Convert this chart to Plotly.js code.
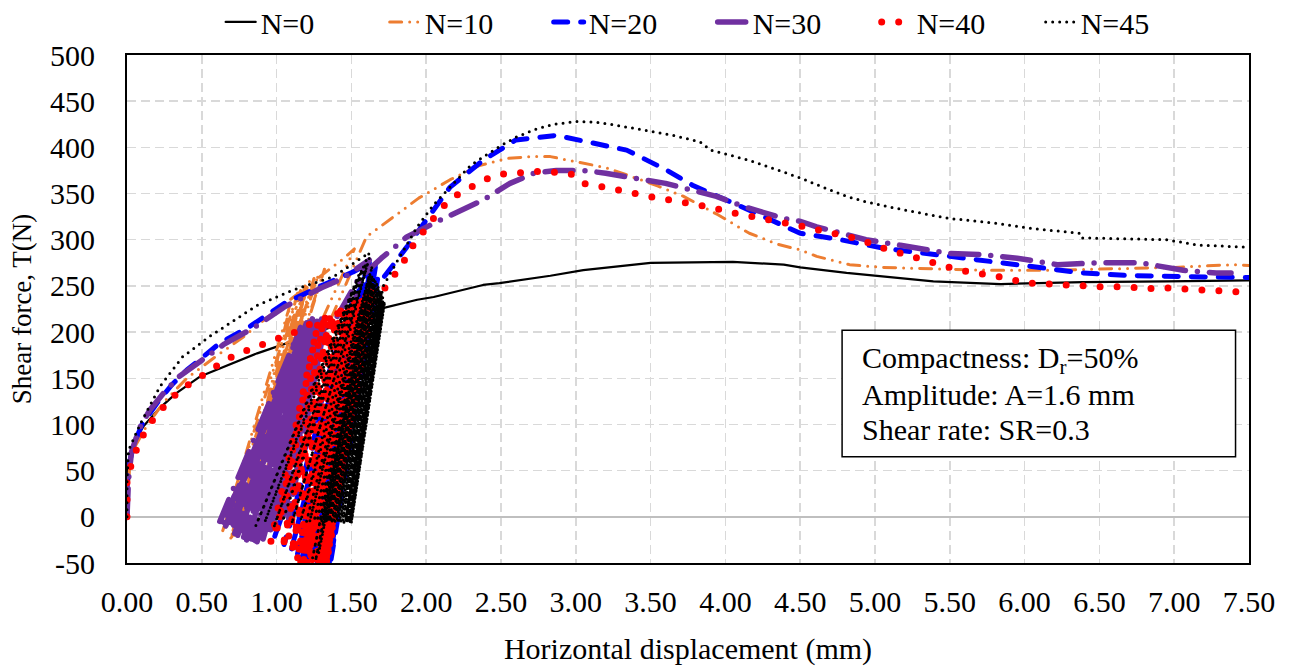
<!DOCTYPE html>
<html>
<head>
<meta charset="utf-8">
<script src="https://cdn.plot.ly/plotly-3.0.1.min.js"></script>
<style>
  html, body { margin: 0; padding: 0; background: #ffffff; }
  #chart { width: 1291px; height: 666px; }
  .js-line { stroke-linecap: round; stroke-linejoin: round; }
</style>
</head>
<body>
<div id="chart"></div>
<script>
// ---------------- DATA ----------------
const seriesNames = ['N=0', 'N=10', 'N=20', 'N=30', 'N=40', 'N=45'];
const yTickVals = [-50, 0, 50, 100, 150, 200, 250, 300, 350, 400, 450, 500];
const yTickText = ['-50', '0', '50', '100', '150', '200', '250', '300', '350', '400', '450', '500'];

// N=0 : monotonic test, no cycles
const n0_x = [0, 0, 0.01, 0.05, 0.11, 0.22, 0.33, 0.49, 0.55, 0.755, 0.87, 1.07, 1.38, 1.71, 1.94, 2.05, 2.38, 2.49, 2.83, 3.05, 3.5, 3.83, 4.05, 4.39, 4.5, 4.81, 4.94, 5.39, 5.84, 6.39, 6.95, 7.48, 7.5];
const n0_y = [0, 30, 60, 82, 98, 118, 134, 152, 156, 170, 177, 188, 206, 226, 235, 238, 251, 253, 261, 267, 275, 276, 276, 273, 270, 264, 262, 255, 252, 254, 255, 256, 256];

// N=10
const n10_init_x = [0, 0.01, 0.02, 0.06, 0.13, 0.25, 0.4, 0.58, 0.78, 0.93, 1.13, 1.3, 1.45, 1.52];
const n10_init_y = [0, 30, 62, 78, 98, 125, 150, 172, 195, 215, 240, 262, 280, 290];
const n10_cyc_x = [0.68, 1.22, 0.64, 1.14, 0.70, 1.28, 0.66, 1.10, 0.73, 1.19, 0.69, 1.25, 0.76, 1.16, 0.72, 1.32, 0.78, 1.21, 0.75];
const n10_cyc_y = [-8, 255, -15, 242, -22, 262, -5, 235, -18, 250, -25, 258, -12, 245, -20, 268, -8, 252, -15];
const n10_post_x = [1.6, 1.78, 1.95, 2.16, 2.35, 2.54, 2.7, 2.83, 3.05, 3.2, 3.38, 3.55, 3.72, 3.95, 4.16, 4.35, 4.5, 4.61, 4.83, 5.05, 5.28, 5.5, 5.75, 6.17, 6.5, 6.72, 7.0, 7.39, 7.5];
const n10_post_y = [303, 325, 345, 365, 380, 388, 390, 390, 383, 378, 368, 358, 347, 327, 307, 295, 289, 282, 273, 270, 269, 268, 267, 267, 268, 269, 270, 273, 272];

// N=20
const n20_init_x = [0, 0, 0.01, 0.05, 0.1, 0.2, 0.3, 0.4, 0.5, 0.62, 0.82, 1.05, 1.31, 1.51, 1.62];
const n20_init_y = [0, 30, 55, 80, 100, 123, 143, 159, 172, 188, 206, 231, 251, 265, 275];
const n20_cyc_x = [0.98, 1.50, 1.05, 1.55, 1.10, 1.52, 1.14, 1.58, 1.17, 1.55, 1.20, 1.60, 1.22, 1.57, 1.24, 1.62, 1.25, 1.59, 1.27, 1.63, 1.28, 1.60, 1.30, 1.64, 1.29, 1.61, 1.31, 1.65, 1.32, 1.62, 1.33, 1.66, 1.34, 1.63, 1.35, 1.66, 1.33, 1.64, 1.36];
const n20_cyc_y = [-25, 230, -30, 245, -35, 238, -40, 252, -45, 240, -48, 258, -42, 248, -50, 262, -38, 250, -52, 265, -45, 255, -55, 268, -40, 258, -50, 270, -45, 262, -55, 272, -48, 265, -52, 270, -42, 266, -50];
const n20_post_x = [1.68, 1.71, 1.87, 2.03, 2.16, 2.38, 2.6, 2.87, 3.09, 3.34, 3.6, 3.78, 4.16, 4.5, 4.77, 5.05, 5.5, 5.95, 6.39, 6.72, 7.17, 7.5];
const n20_post_y = [262, 258, 292, 329, 357, 386, 408, 413, 406, 397, 376, 359, 332, 307, 300, 291, 282, 273, 264, 261, 260, 259];

// N=30
const n30_init_x = [0, 0.01, 0.03, 0.08, 0.15, 0.25, 0.35, 0.5, 0.65, 0.85, 1.05, 1.3, 1.44, 1.62];
const n30_init_y = [0, 40, 70, 95, 115, 135, 152, 170, 187, 205, 227, 248, 258, 278];
const n30_cyc_x = [0.62, 1.16, 0.66, 1.20, 0.70, 1.18, 0.64, 1.22, 0.74, 1.19, 0.68, 1.24, 0.78, 1.17, 0.72, 1.25, 0.80, 1.21, 0.76, 1.27, 0.83, 1.20, 0.79, 1.28, 0.86, 1.23, 0.82, 1.29, 0.88, 1.22, 0.85, 1.27, 0.90, 1.30, 0.87, 1.25, 0.92, 1.31, 0.89, 1.24, 0.94, 1.29, 0.91, 1.32, 0.97, 1.28, 0.93, 1.31, 1.00, 1.26, 0.96, 1.30, 1.04, 1.33, 0.99, 1.29, 1.08, 1.32, 1.02];
const n30_cyc_y = [-5, 205, -10, 210, -15, 200, -8, 212, -20, 205, -12, 215, -22, 195, -18, 210, -25, 205, -15, 212, -24, 198, -20, 215, -26, 205, -18, 210, -22, 200, -25, 208, -20, 214, -27, 204, -15, 210, -22, 198, -12, 206, -24, 212, -8, 203, -18, 208, -5, 196, -14, 205, -3, 210, -10, 200, -2, 206, -6];
const n30_post_x = [1.58, 1.7, 1.87, 2.09, 2.38, 2.56, 2.72, 2.87, 3.05, 3.2, 3.38, 3.6, 3.94, 4.12, 4.39, 4.5, 4.61, 4.94, 5.17, 5.5, 5.7, 5.95, 6.22, 6.5, 6.77, 7.06, 7.28, 7.38];
const n30_post_y = [262, 280, 303, 321, 343, 361, 372, 375, 375, 372, 367, 361, 347, 336, 323, 320, 314, 300, 294, 285, 284, 280, 273, 275, 275, 267, 264, 264];

// N=40
const n40_init_x = [0, 0, 0, 0, 0.04, 0.08, 0.13, 0.2, 0.28, 0.36, 0.46, 0.56, 0.66, 0.77, 0.88, 0.99, 1.1, 1.2, 1.31, 1.42, 1.52];
const n40_init_y = [0, 4, 22, 42, 62, 80, 95, 111, 125, 138, 148, 160, 170, 178, 186, 192, 198, 207, 214, 222, 232];
const n40_cyc_x = [0.96, 1.28, 1.00, 1.32, 1.04, 1.36, 1.08, 1.38, 1.10, 1.41, 1.12, 1.43, 1.14, 1.45, 1.15, 1.47, 1.16, 1.48, 1.17, 1.50, 1.18, 1.51, 1.19, 1.52, 1.20, 1.53, 1.21, 1.54, 1.22, 1.55, 1.22, 1.56, 1.23, 1.56, 1.24, 1.57, 1.24, 1.57, 1.25, 1.58, 1.25, 1.58, 1.26, 1.59, 1.26, 1.59, 1.27, 1.60, 1.27, 1.60, 1.28, 1.60, 1.28, 1.61, 1.29, 1.61, 1.29, 1.61, 1.30, 1.62, 1.30, 1.62, 1.30, 1.62, 1.31, 1.62, 1.31, 1.63, 1.31, 1.63, 1.32, 1.63, 1.32, 1.63, 1.32, 1.64, 1.33, 1.64, 1.33];
const n40_cyc_y = [-28, 212, -15, 216, -35, 220, -22, 218, -40, 222, -30, 225, -45, 222, -35, 228, -50, 225, -40, 230, -48, 228, -38, 233, -52, 230, -44, 235, -50, 232, -40, 236, -55, 233, -46, 238, -52, 235, -42, 239, -56, 236, -48, 240, -52, 237, -45, 241, -55, 238, -50, 242, -44, 239, -53, 243, -47, 240, -55, 244, -49, 241, -44, 245, -52, 242, -46, 245, -55, 243, -50, 246, -45, 244, -53, 246, -48, 245, -52];
const n40_post_x = [1.66, 1.7, 1.76, 1.84, 1.89, 1.96, 2.03, 2.1, 2.19, 2.29, 2.39, 2.5, 2.63, 2.74, 2.86, 2.97, 3.02, 3.05, 3.12, 3.23, 3.34, 3.45, 3.56, 3.67, 3.8, 3.91, 4.02, 4.13, 4.24, 4.35, 4.47, 4.58, 4.69, 4.8, 4.91, 5.01, 5.12, 5.23, 5.35, 5.45, 5.56, 5.68, 5.78, 5.9, 6.0, 6.11, 6.23, 6.34, 6.46, 6.58, 6.69, 6.81, 6.92, 7.03, 7.15, 7.26, 7.38, 7.5];
const n40_post_y = [236, 242, 256, 273, 289, 304, 320, 334, 347, 357, 365, 371, 373, 374, 373, 371, 365, 361, 359, 356, 352, 348, 345, 341, 337, 335, 330, 327, 324, 320, 316, 312, 308, 304, 300, 293, 288, 282, 277, 272, 267, 264, 261, 258, 253, 253, 251, 251, 249, 249, 249, 247, 248, 247, 245, 245, 244, 243];

// N=45
const n45_init_x = [0, 0, 0.01, 0.09, 0.22, 0.37, 0.55, 0.87, 1.1, 1.38, 1.62];
const n45_init_y = [0, 40, 72, 101, 141, 173, 195, 229, 245, 260, 286];
const n45_cyc_x = [0.86, 1.55, 0.92, 1.60, 0.98, 1.57, 1.04, 1.62, 1.10, 1.60, 1.16, 1.64, 1.20, 1.62, 1.22, 1.63, 1.24, 1.62, 1.25, 1.64, 1.26, 1.63, 1.27, 1.65, 1.28, 1.64, 1.29, 1.65, 1.30, 1.66, 1.31, 1.65, 1.32, 1.66, 1.33, 1.67, 1.34, 1.66, 1.35, 1.67, 1.36, 1.68, 1.37, 1.67, 1.38, 1.68, 1.39, 1.69, 1.40, 1.68, 1.41, 1.69, 1.42, 1.70, 1.43, 1.69, 1.44, 1.70, 1.45, 1.70, 1.46, 1.71, 1.47, 1.70, 1.48, 1.71, 1.49, 1.71, 1.50, 1.72, 1.49, 1.71, 1.48, 1.70, 1.47, 1.71, 1.50, 1.72, 1.46, 1.70, 1.49, 1.71, 1.50, 1.72, 1.48, 1.71, 1.50, 1.72, 1.49];
const n45_cyc_y = [-10, 262, -6, 275, -12, 268, -5, 280, -8, 270, -5, 272, -5, 262, -6, 264, -45, 258, -5, 262, -48, 256, -5, 260, -40, 255, -5, 258, -6, 256, -5, 253, -5, 255, -6, 252, -5, 250, -5, 252, -6, 249, -5, 247, -5, 248, -6, 246, -5, 244, -5, 245, -6, 243, -5, 241, -5, 242, -6, 240, -5, 238, -5, 237, -6, 236, -5, 234, -5, 232, -6, 233, -5, 235, -6, 234, -5, 231, -5, 236, -6, 232, -5, 230, -5, 233, -6, 230, -5];
const n45_post_x = [1.71, 1.8, 1.94, 2.05, 2.16, 2.3, 2.49, 2.6, 2.72, 2.85, 3.01, 3.15, 3.27, 3.5, 3.65, 3.83, 3.88, 3.9, 4.16, 4.3, 4.5, 4.65, 4.81, 4.94, 5.2, 5.5, 5.8, 6.06, 6.37, 6.38, 6.7, 6.95, 7.17, 7.48, 7.5];
const n45_post_y = [249, 275, 314, 338, 357, 381, 401, 411, 419, 425, 428, 427, 424, 417, 413, 406, 400, 397, 386, 378, 367, 357, 347, 341, 332, 323, 318, 312, 307, 302, 301, 300, 294, 292, 292];

// Annotation lines
const noteLines = ['Compactness: D<sub>r</sub>=50%', 'Amplitude: A=1.6 mm', 'Shear rate: SR=0.3'];
const xTitle = 'Horizontal displacement (mm)';
const yTitle = 'Shear force, T(N)';

// ---------------- BUILD ----------------
const FONT = '"Liberation Serif", "Times New Roman", serif';
function join(a, b, c) { return a.concat(b, c); }

const seriesX = [n0_x, join(n10_init_x, n10_cyc_x, n10_post_x), join(n20_init_x, n20_cyc_x, n20_post_x),
                 join(n30_init_x, n30_cyc_x, n30_post_x), join(n40_init_x, n40_cyc_x, n40_post_x),
                 join(n45_init_x, n45_cyc_x, n45_post_x)];
const seriesY = [n0_y, join(n10_init_y, n10_cyc_y, n10_post_y), join(n20_init_y, n20_cyc_y, n20_post_y),
                 join(n30_init_y, n30_cyc_y, n30_post_y), join(n40_init_y, n40_cyc_y, n40_post_y),
                 join(n45_init_y, n45_cyc_y, n45_post_y)];
const styles = [
  {color: '#000000', width: 2.25, dash: 'solid'},
  {color: '#ED7D31', width: 3, dash: '12px,8px,0px,8px,0px,8px'},
  {color: '#0000FF', width: 5, dash: '14px,13px'},
  {color: '#7030A0', width: 5.5, dash: '28px,12px,0px,12px'},
  {color: '#FF0000', width: 7, dash: '0px,17px'},
  {color: '#000000', width: 3, dash: '0px,7px'}
];

const traces = seriesNames.map((name, i) => ({
  type: 'scatter', mode: 'lines', name: name,
  x: seriesX[i], y: seriesY[i],
  line: styles[i], hoverinfo: 'skip'
}));

const annotations = noteLines.map((t, i) => ({
  xref: 'x', yref: 'y', x: 4.9, y: [170, 132, 95][i],
  xanchor: 'left', yanchor: 'middle', showarrow: false, align: 'left',
  text: t, font: {family: FONT, size: 30, color: '#000000'}
}));

const layout = {
  width: 1291, height: 666,
  margin: {l: 127, r: 42, t: 55, b: 103, autoexpand: false},
  paper_bgcolor: '#ffffff', plot_bgcolor: '#ffffff',
  font: {family: FONT, size: 30, color: '#000000'},
  showlegend: true,
  legend: {orientation: 'h', x: 0.522, xanchor: 'center', y: 1.065, yanchor: 'middle',
           font: {family: FONT, size: 30, color: '#000000'}, entrywidth: 119, bgcolor: 'rgba(0,0,0,0)'},
  xaxis: {
    range: [0, 7.5], dtick: 0.5, tick0: 0, tickformat: '.2f',
    showgrid: true, gridcolor: '#D9D9D9', gridwidth: 1.5, griddash: '9px,5px',
    zeroline: false, showline: true, mirror: true, linecolor: '#000000', linewidth: 2,
    ticks: 'outside', ticklen: 11, tickcolor: 'rgba(0,0,0,0)',
    tickfont: {family: FONT, size: 30, color: '#000000'},
    title: {text: xTitle, font: {family: FONT, size: 30, color: '#000000'}, standoff: 25},
    automargin: false
  },
  yaxis: {
    range: [-50, 500], tickmode: 'array', tickvals: yTickVals, ticktext: yTickText,
    showgrid: true, gridcolor: '#D9D9D9', gridwidth: 1.5, griddash: '9px,5px',
    zeroline: true, zerolinecolor: '#BFBFBF', zerolinewidth: 2,
    showline: true, mirror: true, linecolor: '#000000', linewidth: 2,
    ticks: 'outside', ticklen: 24, tickcolor: 'rgba(0,0,0,0)',
    tickfont: {family: FONT, size: 30, color: '#000000'},
    title: {text: yTitle, font: {family: FONT, size: 27, color: '#000000'}, standoff: 11},
    automargin: false
  },
  shapes: [{type: 'rect', xref: 'x', yref: 'y', x0: 4.78, x1: 7.41, y0: 65, y1: 202,
            line: {color: '#000000', width: 1.5}, fillcolor: '#ffffff', layer: 'above'}],
  annotations: annotations
};

Plotly.newPlot('chart', traces, layout, {staticPlot: true, displayModeBar: false});
</script>
</body>
</html>
